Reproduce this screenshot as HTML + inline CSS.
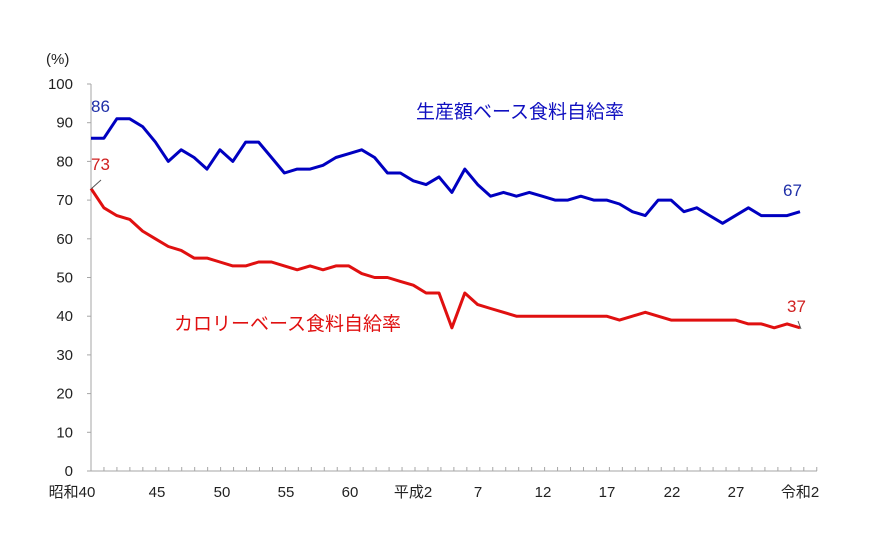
<!DOCTYPE html>
<html><head><meta charset="utf-8"><style>
body{margin:0;background:#fff;}
text{font-family:"Liberation Sans","Noto Sans CJK JP",sans-serif;}
</style></head><body>
<svg width="879" height="553" viewBox="0 0 879 553" xmlns="http://www.w3.org/2000/svg">
<g id="ax" stroke="#a6a6a6" stroke-width="1" fill="none"></g>
<g id="lab" font-size="15" fill="#222"></g>
<polyline id="blue" fill="none" stroke="#0000c0" stroke-width="3" stroke-linejoin="round"/>
<polyline id="red" fill="none" stroke="#e01010" stroke-width="3" stroke-linejoin="round"/>
<text x="46" y="64" font-size="15" fill="#222">(%)</text>
<text x="91" y="112" font-size="17" fill="#1f2fa8">86</text>
<text x="91" y="170" font-size="17" fill="#d02020">73</text>
<line x1="91" y1="189" x2="101" y2="180" stroke="#555" stroke-width="1"/>
<text x="783" y="196" font-size="17" fill="#1f2fa8">67</text>
<text x="787" y="312" font-size="17" fill="#d02020">37</text>
<line x1="798" y1="321" x2="801" y2="329" stroke="#555" stroke-width="1"/>
<text x="416" y="118" font-size="19" fill="#1010c0">生産額ベース食料自給率</text>
<text x="174" y="330" font-size="19" fill="#e01010">カロリーベース食料自給率</text>
</svg>
<script>
const x0=91,dx=12.89,y0=471,k=3.87;
const b=[86,86,91,91,89,85,80,83,81,78,83,80,85,85,81,77,78,78,79,81,82,83,81,77,77,75,74,76,72,78,74,71,72,71,72,71,70,70,71,70,70,69,67,66,70,70,67,68,66,64,66,68,66,66,66,67];
const r=[73,68,66,65,62,60,58,57,55,55,54,53,53,54,54,53,52,53,52,53,53,51,50,50,49,48,46,46,37,46,43,42,41,40,40,40,40,40,40,40,40,39,40,41,40,39,39,39,39,39,39,38,38,37,38,37];
const pts=a=>a.map((v,i)=>(x0+i*dx).toFixed(1)+","+(y0-v*k).toFixed(1)).join(" ");
document.getElementById("blue").setAttribute("points",pts(b));
document.getElementById("red").setAttribute("points",pts(r));
const NS="http://www.w3.org/2000/svg";
const ax=document.getElementById("ax"),lab=document.getElementById("lab");
function el(p,t,a,txt){const e=document.createElementNS(NS,t);for(const q in a)e.setAttribute(q,a[q]);if(txt)e.textContent=txt;p.appendChild(e);}
el(ax,"line",{x1:91,y1:84,x2:91,y2:471});
el(ax,"line",{x1:91,y1:471,x2:817,y2:471});
for(let v=0;v<=100;v+=10){const y=y0-v*k;el(ax,"line",{x1:87,y1:y,x2:91,y2:y});el(lab,"text",{x:73,y:y+5,"text-anchor":"end"},String(v));}
for(let i=0;i<=56;i++){const x=91+i*12.96;el(ax,"line",{x1:x,y1:471,x2:x,y2:467});}
const xl=[["昭和40",72],["45",157],["50",222],["55",286],["60",350],["平成2",413],["7",478],["12",543],["17",607],["22",672],["27",736],["令和2",800]];
xl.forEach(([t,x])=>el(lab,"text",{x:x,y:497,"text-anchor":"middle"},t));
</script>
</body></html>
